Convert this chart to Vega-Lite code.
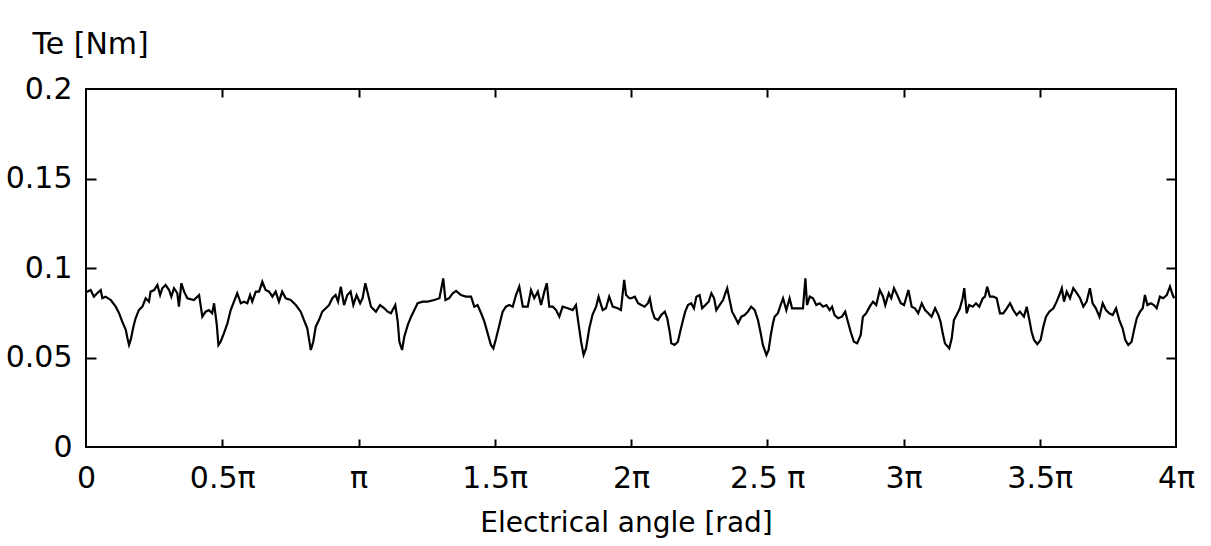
{
  "$schema": "https://vega.github.io/schema/vega-lite/v6.json",
  "autosize": {"type": "none"},
  "width": 1090,
  "height": 358,
  "padding": {"left": 86, "top": 89, "right": 35, "bottom": 99},
  "background": "white",
  "config": {
    "view": {"stroke": "black", "strokeWidth": 2},
    "axis": {
      "grid": false,
      "domain": false,
      "tickColor": "black",
      "tickWidth": 2,
      "labelColor": "black",
      "labelFont": "DejaVu Sans",
      "labelFontSize": 30,
      "labelFontWeight": "normal",
      "titleFont": "DejaVu Sans",
      "titleFontSize": 28,
      "titleFontWeight": "normal",
      "titleColor": "black"
    }
  },
  "data": {"values": [
    {"a":0.000,"te":0.0868},{"a":0.005,"te":0.0868},{"a":0.017,"te":0.0877},{"a":0.029,"te":0.0840},{"a":0.041,"te":0.0859},{"a":0.054,"te":0.0877},{"a":0.060,"te":0.0832},{"a":0.072,"te":0.0840},{"a":0.091,"te":0.0821},{"a":0.109,"te":0.0784},{"a":0.121,"te":0.0749},{"a":0.133,"te":0.0700},{"a":0.146,"te":0.0654},{"a":0.152,"te":0.0609},{"a":0.158,"te":0.0570},{"a":0.164,"te":0.0598},{"a":0.174,"te":0.0672},{"a":0.182,"te":0.0719},{"a":0.194,"te":0.0765},{"a":0.207,"te":0.0784},{"a":0.219,"te":0.0831},{"a":0.231,"te":0.0812},{"a":0.237,"te":0.0868},{"a":0.250,"te":0.0877},{"a":0.262,"te":0.0905},{"a":0.272,"te":0.0849},{"a":0.280,"te":0.0887},{"a":0.292,"te":0.0905},{"a":0.305,"te":0.0877},{"a":0.313,"te":0.0840},{"a":0.323,"te":0.0887},{"a":0.335,"te":0.0859},{"a":0.341,"te":0.0784},{"a":0.350,"te":0.0915},{"a":0.360,"te":0.0868},{"a":0.372,"te":0.0831},{"a":0.396,"te":0.0821},{"a":0.415,"te":0.0849},{"a":0.427,"te":0.0728},{"a":0.439,"te":0.0756},{"a":0.451,"te":0.0765},{"a":0.463,"te":0.0747},{"a":0.470,"te":0.0803},{"a":0.480,"te":0.0682},{"a":0.486,"te":0.0570},{"a":0.494,"te":0.0588},{"a":0.506,"te":0.0635},{"a":0.519,"te":0.0691},{"a":0.531,"te":0.0765},{"a":0.543,"te":0.0812},{"a":0.555,"te":0.0859},{"a":0.568,"te":0.0803},{"a":0.580,"te":0.0812},{"a":0.592,"te":0.0803},{"a":0.602,"te":0.0849},{"a":0.610,"te":0.0812},{"a":0.623,"te":0.0868},{"a":0.635,"te":0.0868},{"a":0.647,"te":0.0923},{"a":0.659,"te":0.0877},{"a":0.672,"te":0.0868},{"a":0.684,"te":0.0840},{"a":0.696,"te":0.0868},{"a":0.708,"te":0.0812},{"a":0.720,"te":0.0868},{"a":0.733,"te":0.0831},{"a":0.751,"te":0.0821},{"a":0.770,"te":0.0793},{"a":0.788,"te":0.0756},{"a":0.800,"te":0.0709},{"a":0.812,"te":0.0663},{"a":0.818,"te":0.0607},{"a":0.825,"te":0.0542},{"a":0.834,"te":0.0588},{"a":0.843,"te":0.0672},{"a":0.855,"te":0.0709},{"a":0.867,"te":0.0756},{"a":0.880,"te":0.0775},{"a":0.892,"te":0.0793},{"a":0.904,"te":0.0831},{"a":0.916,"te":0.0849},{"a":0.925,"te":0.0812},{"a":0.935,"te":0.0896},{"a":0.947,"te":0.0793},{"a":0.959,"te":0.0849},{"a":0.971,"te":0.0868},{"a":0.981,"te":0.0793},{"a":0.993,"te":0.0849},{"a":1.006,"te":0.0803},
    {"a":1.015,"te":0.0831},{"a":1.025,"te":0.0915},{"a":1.034,"te":0.0859},{"a":1.046,"te":0.0784},{"a":1.064,"te":0.0756},{"a":1.079,"te":0.0793},{"a":1.095,"te":0.0775},{"a":1.107,"te":0.0756},{"a":1.119,"te":0.0747},{"a":1.135,"te":0.0793},{"a":1.144,"te":0.0700},{"a":1.150,"te":0.0588},{"a":1.160,"te":0.0542},{"a":1.168,"te":0.0616},{"a":1.181,"te":0.0682},{"a":1.193,"te":0.0728},{"a":1.205,"te":0.0765},{"a":1.217,"te":0.0803},{"a":1.236,"te":0.0812},{"a":1.254,"te":0.0812},{"a":1.278,"te":0.0821},{"a":1.297,"te":0.0831},{"a":1.311,"te":0.0942},{"a":1.319,"te":0.0821},{"a":1.333,"te":0.0831},{"a":1.346,"te":0.0859},{"a":1.358,"te":0.0872},{"a":1.376,"te":0.0849},{"a":1.394,"te":0.0840},{"a":1.413,"te":0.0840},{"a":1.425,"te":0.0784},{"a":1.437,"te":0.0793},{"a":1.450,"te":0.0747},{"a":1.462,"te":0.0700},{"a":1.474,"te":0.0635},{"a":1.486,"te":0.0570},{"a":1.495,"te":0.0551},{"a":1.505,"te":0.0607},{"a":1.517,"te":0.0682},{"a":1.529,"te":0.0756},{"a":1.541,"te":0.0784},{"a":1.553,"te":0.0793},{"a":1.566,"te":0.0784},{"a":1.578,"te":0.0849},{"a":1.590,"te":0.0896},{"a":1.603,"te":0.0784},{"a":1.621,"te":0.0784},{"a":1.633,"te":0.0877},{"a":1.645,"te":0.0831},{"a":1.658,"te":0.0868},{"a":1.670,"te":0.0793},{"a":1.682,"te":0.0868},{"a":1.691,"te":0.0915},{"a":1.700,"te":0.0784},{"a":1.713,"te":0.0784},{"a":1.725,"te":0.0765},{"a":1.737,"te":0.0728},{"a":1.749,"te":0.0784},{"a":1.768,"te":0.0775},{"a":1.786,"te":0.0765},{"a":1.798,"te":0.0793},{"a":1.808,"te":0.0682},{"a":1.817,"te":0.0588},{"a":1.826,"te":0.0514},{"a":1.835,"te":0.0551},{"a":1.847,"te":0.0663},{"a":1.859,"te":0.0740},{"a":1.872,"te":0.0784},{"a":1.881,"te":0.0840},{"a":1.896,"te":0.0765},{"a":1.908,"te":0.0775},{"a":1.920,"te":0.0840},{"a":1.933,"te":0.0784},{"a":1.951,"te":0.0775},{"a":1.963,"te":0.0765},{"a":1.975,"te":0.0933},{"a":1.982,"te":0.0849},{"a":1.994,"te":0.0831},
    {"a":2.001,"te":0.0831},{"a":2.014,"te":0.0840},{"a":2.026,"te":0.0803},{"a":2.038,"te":0.0793},{"a":2.050,"te":0.0784},{"a":2.062,"te":0.0803},{"a":2.069,"te":0.0831},{"a":2.077,"te":0.0765},{"a":2.087,"te":0.0719},{"a":2.099,"te":0.0709},{"a":2.111,"te":0.0737},{"a":2.124,"te":0.0756},{"a":2.133,"te":0.0719},{"a":2.142,"te":0.0644},{"a":2.148,"te":0.0579},{"a":2.160,"te":0.0570},{"a":2.172,"te":0.0588},{"a":2.182,"te":0.0654},{"a":2.191,"te":0.0709},{"a":2.199,"te":0.0756},{"a":2.209,"te":0.0793},{"a":2.221,"te":0.0803},{"a":2.231,"te":0.0775},{"a":2.240,"te":0.0840},{"a":2.252,"te":0.0849},{"a":2.261,"te":0.0775},{"a":2.273,"te":0.0793},{"a":2.285,"te":0.0812},{"a":2.295,"te":0.0859},{"a":2.305,"te":0.0831},{"a":2.313,"te":0.0765},{"a":2.325,"te":0.0793},{"a":2.338,"te":0.0821},{"a":2.346,"te":0.0859},{"a":2.353,"te":0.0887},{"a":2.362,"te":0.0821},{"a":2.371,"te":0.0756},{"a":2.381,"te":0.0728},{"a":2.393,"te":0.0691},{"a":2.405,"te":0.0728},{"a":2.417,"te":0.0737},{"a":2.429,"te":0.0756},{"a":2.441,"te":0.0784},{"a":2.454,"te":0.0765},{"a":2.466,"te":0.0709},{"a":2.476,"te":0.0635},{"a":2.484,"te":0.0570},{"a":2.497,"te":0.0514},{"a":2.505,"te":0.0542},{"a":2.513,"te":0.0626},{"a":2.521,"te":0.0691},{"a":2.527,"te":0.0728},{"a":2.539,"te":0.0747},{"a":2.549,"te":0.0793},{"a":2.558,"te":0.0831},{"a":2.570,"te":0.0765},{"a":2.582,"te":0.0831},{"a":2.591,"te":0.0775},{"a":2.603,"te":0.0775},{"a":2.619,"te":0.0775},{"a":2.631,"te":0.0775},{"a":2.640,"te":0.0942},{"a":2.646,"te":0.0793},{"a":2.656,"te":0.0840},{"a":2.668,"te":0.0831},{"a":2.680,"te":0.0793},{"a":2.692,"te":0.0803},{"a":2.705,"te":0.0784},{"a":2.717,"te":0.0793},{"a":2.729,"te":0.0765},{"a":2.738,"te":0.0784},{"a":2.747,"te":0.0737},{"a":2.760,"te":0.0719},{"a":2.774,"te":0.0728},{"a":2.786,"te":0.0756},{"a":2.796,"te":0.0700},{"a":2.806,"te":0.0644},{"a":2.818,"te":0.0588},{"a":2.830,"te":0.0579},{"a":2.843,"te":0.0626},{"a":2.851,"te":0.0728},{"a":2.863,"te":0.0747},{"a":2.876,"te":0.0784},{"a":2.888,"te":0.0812},{"a":2.900,"te":0.0793},{"a":2.913,"te":0.0877},{"a":2.925,"te":0.0840},{"a":2.933,"te":0.0793},{"a":2.946,"te":0.0859},{"a":2.955,"te":0.0831},{"a":2.965,"te":0.0887},{"a":2.977,"te":0.0849},{"a":2.990,"te":0.0803},{"a":3.002,"te":0.0793},
    {"a":3.018,"te":0.0877},{"a":3.030,"te":0.0784},{"a":3.042,"te":0.0775},{"a":3.054,"te":0.0747},{"a":3.067,"te":0.0803},{"a":3.079,"te":0.0765},{"a":3.091,"te":0.0747},{"a":3.103,"te":0.0728},{"a":3.116,"te":0.0775},{"a":3.128,"te":0.0737},{"a":3.136,"te":0.0700},{"a":3.144,"te":0.0635},{"a":3.152,"te":0.0579},{"a":3.168,"te":0.0551},{"a":3.177,"te":0.0607},{"a":3.185,"te":0.0709},{"a":3.195,"te":0.0737},{"a":3.207,"te":0.0775},{"a":3.217,"te":0.0831},{"a":3.223,"te":0.0887},{"a":3.232,"te":0.0747},{"a":3.241,"te":0.0793},{"a":3.254,"te":0.0784},{"a":3.266,"te":0.0803},{"a":3.278,"te":0.0784},{"a":3.291,"te":0.0831},{"a":3.299,"te":0.0840},{"a":3.307,"te":0.0896},{"a":3.317,"te":0.0840},{"a":3.330,"te":0.0840},{"a":3.342,"te":0.0831},{"a":3.354,"te":0.0747},{"a":3.366,"te":0.0747},{"a":3.379,"te":0.0775},{"a":3.391,"te":0.0803},{"a":3.403,"te":0.0765},{"a":3.415,"te":0.0737},{"a":3.427,"te":0.0756},{"a":3.442,"te":0.0728},{"a":3.452,"te":0.0784},{"a":3.462,"te":0.0709},{"a":3.470,"te":0.0644},{"a":3.479,"te":0.0598},{"a":3.491,"te":0.0574},{"a":3.503,"te":0.0598},{"a":3.513,"te":0.0672},{"a":3.523,"te":0.0728},{"a":3.535,"te":0.0756},{"a":3.550,"te":0.0775},{"a":3.562,"te":0.0812},{"a":3.572,"te":0.0849},{"a":3.581,"te":0.0887},{"a":3.589,"te":0.0812},{"a":3.599,"te":0.0868},{"a":3.611,"te":0.0831},{"a":3.623,"te":0.0887},{"a":3.636,"te":0.0859},{"a":3.648,"te":0.0831},{"a":3.660,"te":0.0784},{"a":3.672,"te":0.0812},{"a":3.684,"te":0.0887},{"a":3.694,"te":0.0803},{"a":3.706,"te":0.0775},{"a":3.719,"te":0.0728},{"a":3.731,"te":0.0803},{"a":3.743,"te":0.0765},{"a":3.755,"te":0.0747},{"a":3.768,"te":0.0737},{"a":3.780,"te":0.0775},{"a":3.792,"te":0.0709},{"a":3.804,"te":0.0663},{"a":3.814,"te":0.0598},{"a":3.825,"te":0.0570},{"a":3.837,"te":0.0588},{"a":3.846,"te":0.0654},{"a":3.856,"te":0.0719},{"a":3.868,"te":0.0756},{"a":3.878,"te":0.0775},{"a":3.886,"te":0.0849},{"a":3.895,"te":0.0793},{"a":3.907,"te":0.0803},{"a":3.919,"te":0.0793},{"a":3.929,"te":0.0775},{"a":3.941,"te":0.0840},{"a":3.953,"te":0.0831},{"a":3.966,"te":0.0849},{"a":3.978,"te":0.0896},{"a":3.988,"te":0.0849},{"a":3.993,"te":0.0831}
  ]},
  "layer": [
    {
      "mark": {"type": "line", "color": "black", "strokeWidth": 2.2, "clip": true},
      "encoding": {
        "x": {
          "field": "a", "type": "quantitative",
          "scale": {"domain": [0, 4], "nice": false, "zero": false},
          "axis": {
            "orient": "bottom",
            "values": [0, 0.5, 1, 1.5, 2, 2.5, 3, 3.5, 4],
            "labelExpr": "datum.value === 0 ? '0' : datum.value === 1 ? 'π' : datum.value === 2.5 ? '2.5 π' : datum.value + 'π'",
            "tickSize": 0,
            "tickOpacity": 0,
            "labelPadding": 16,
            "labelBaseline": "top",
            "labelOverlap": false,
            "labelFlush": false,
            "title": "Electrical angle [rad]",
            "titleX": 540,
            "titleY": 84,
            "titleBaseline": "alphabetic",
            "titleAlign": "center"
          }
        },
        "y": {
          "field": "te", "type": "quantitative",
          "scale": {"domain": [0, 0.2], "nice": false},
          "axis": {
            "orient": "left",
            "values": [0, 0.05, 0.1, 0.15, 0.2],
            "format": "~g",
            "tickSize": 0,
            "tickOpacity": 0,
            "labelPadding": 14,
            "labelBaseline": "middle",
            "labelOverlap": false,
            "labelFlush": false,
            "title": "Te [Nm]",
            "titleAngle": 0,
            "titleAlign": "left",
            "titleBaseline": "alphabetic",
            "titleX": -54,
            "titleY": -36,
            "titleFontSize": 30
          }
        }
      }
    },
    {
      "mark": {"type": "line", "opacity": 0},
      "encoding": {
        "x": {
          "field": "a", "type": "quantitative",
          "axis": {"orient": "top", "offset": -358, "values": [0.5, 1, 1.5, 2, 2.5, 3, 3.5], "labels": false, "title": null, "tickSize": 8}
        },
        "y": {
          "field": "te", "type": "quantitative",
          "axis": {"orient": "right", "offset": -1090, "values": [0.05, 0.1, 0.15], "labels": false, "title": null, "tickSize": 10}
        }
      }
    },
    {
      "mark": {"type": "line", "opacity": 0},
      "encoding": {
        "x": {
          "field": "a", "type": "quantitative",
          "axis": {"orient": "bottom", "offset": -358, "values": [0.5, 1, 1.5, 2, 2.5, 3, 3.5], "labels": false, "title": null, "tickSize": 8}
        },
        "y": {
          "field": "te", "type": "quantitative",
          "axis": {"orient": "left", "offset": -1090, "values": [0.05, 0.1, 0.15], "labels": false, "title": null, "tickSize": 10}
        }
      }
    }
  ],
  "resolve": {"axis": {"x": "independent", "y": "independent"}}
}
